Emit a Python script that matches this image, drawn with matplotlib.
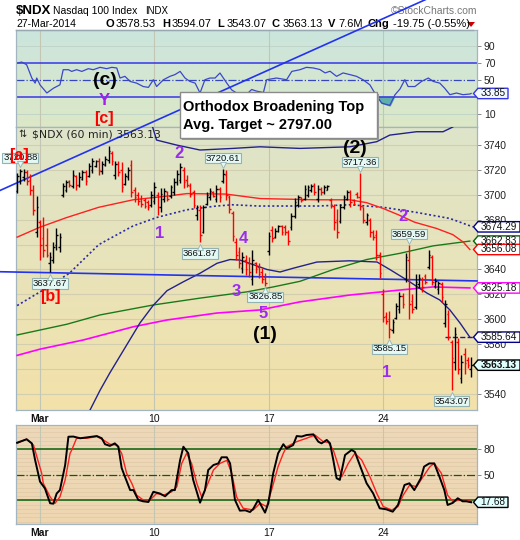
import numpy as np
import matplotlib
matplotlib.use('Agg')
import matplotlib.pyplot as plt
import matplotlib.colors as mcolors
from matplotlib.patches import Polygon, Rectangle
from matplotlib.transforms import IdentityTransform, offset_copy

plt.rcParams['font.family'] = ['Liberation Sans', 'DejaVu Sans']

# ---------------- data ----------------
date_ticks = [7, 42, 77, 112]
date_labels = ['Mar', '10', '17', '24']

opens = [3703, 3711, 3714, 3718, 3712, 3704, 3670, 3678, 3665, 3660, 3645, 3648, 3660, 3658,
         3700, 3704, 3711, 3707, 3715, 3708, 3713, 3718, 3715, 3720, 3723, 3727, 3719, 3724,
         3728, 3734, 3716, 3725, 3720, 3709, 3714, 3724, 3704, 3700, 3697, 3696, 3694, 3692,
         3695, 3700, 3690, 3697, 3702, 3699, 3702, 3710, 3712, 3720, 3712, 3707, 3702, 3684,
         3688, 3670, 3693, 3698, 3702, 3697, 3705, 3711, 3716, 3698, 3685, 3662, 3654, 3641,
         3648, 3645, 3632, 3645, 3642, 3638, 3634, 3655, 3672, 3666, 3671, 3675, 3674, 3670,
         3674, 3683, 3692, 3698, 3697, 3700, 3704, 3708, 3697, 3705, 3702, 3704, 3696, 3691,
         3680, 3679, 3690, 3697, 3702, 3696, 3701, 3698, 3690, 3678, 3680, 3670, 3668, 3652,
         3620, 3603, 3600, 3591, 3601, 3608, 3619, 3632, 3648, 3615, 3610, 3628, 3632, 3635,
         3642, 3650, 3627, 3624, 3628, 3597, 3604, 3582, 3566, 3582, 3553, 3572, 3567, 3560]
highs = [3717.5, 3720.88, 3721, 3720, 3717, 3708, 3699, 3680, 3682, 3673, 3654, 3662, 3673, 3669,
         3709.5, 3712, 3712, 3720, 3716, 3718, 3720, 3720, 3725.5, 3729.5, 3728, 3729.5, 3727, 3731,
         3739.5, 3735, 3727, 3727, 3726.6, 3717.5, 3722.6, 3728, 3706.5, 3702.5, 3700, 3697.5, 3696, 3703,
         3710.5, 3702.5, 3705.5, 3705.5, 3703, 3708, 3713.5, 3720, 3725.5, 3722.6, 3716, 3709.5, 3704, 3692,
         3692, 3692, 3702.5, 3705.5, 3703, 3708, 3706.5, 3720.61, 3720, 3700, 3687, 3665, 3658, 3654,
         3652, 3650, 3655.7, 3646, 3645, 3641, 3637, 3670, 3675, 3673, 3676, 3676, 3676, 3672,
         3685, 3697.5, 3700, 3698.5, 3708, 3708, 3708.7, 3709.5, 3708, 3706.5, 3708, 3708, 3697.5, 3693,
         3689, 3693, 3700, 3704, 3704, 3697, 3702.5, 3717.36, 3690.5, 3685, 3681, 3672, 3672, 3654,
         3624, 3606, 3607, 3600, 3613, 3622, 3621, 3653, 3659.59, 3620, 3636, 3636, 3634, 3636,
         3656, 3652, 3633, 3631, 3630, 3615.5, 3607.5, 3583.4, 3594, 3585, 3571, 3577, 3570, 3570]
lows = [3701.5, 3709, 3711, 3708, 3700, 3684, 3666, 3648, 3650, 3650, 3637.67, 3645, 3656, 3654,
        3698.5, 3702.5, 3706, 3705.5, 3704, 3706, 3712, 3708, 3714, 3717.5, 3722, 3716, 3717, 3723,
        3725.5, 3724, 3713, 3715, 3702.5, 3708, 3712, 3698.5, 3694.5, 3692, 3690.5, 3689.5, 3688, 3690,
        3693, 3684, 3686.5, 3694.5, 3695, 3697.5, 3700, 3708, 3709.5, 3705.5, 3706.5, 3698.5, 3689.5, 3680,
        3661.87, 3669, 3692, 3696, 3698, 3694.5, 3694.5, 3709.5, 3696, 3685.5, 3663, 3648, 3641, 3637,
        3635.6, 3634, 3627.6, 3637, 3633, 3629, 3626.85, 3652, 3662, 3665, 3670, 3668, 3668, 3660,
        3672, 3681, 3690.5, 3694.5, 3696, 3698.5, 3702.5, 3700, 3694.5, 3700, 3701, 3703.5, 3689.5, 3672,
        3665, 3677, 3689, 3696, 3690.5, 3692, 3697.5, 3688, 3677, 3676, 3666, 3664, 3648, 3633,
        3598, 3596, 3585.15, 3589, 3600, 3605, 3609, 3630, 3600, 3605, 3608, 3625, 3622, 3628,
        3640, 3627.5, 3625, 3620, 3614, 3594, 3583.4, 3543.07, 3559, 3556, 3549, 3556, 3561, 3554]
closes = [3715, 3719, 3718, 3711, 3704, 3688, 3690, 3660, 3656, 3652, 3650, 3658, 3668, 3666,
          3707, 3710, 3708, 3716, 3708, 3714, 3718, 3711, 3723, 3727, 3727, 3720, 3725, 3729,
          3735, 3727, 3725, 3718, 3706, 3715, 3720, 3702, 3698, 3695, 3693, 3691, 3690, 3700,
          3706, 3690, 3701, 3703, 3697, 3706, 3710, 3717, 3722, 3710, 3708, 3701, 3692, 3690,
          3668, 3690, 3700, 3703, 3699, 3705, 3698, 3717, 3700, 3689, 3667, 3652, 3645, 3650,
          3640, 3638, 3648, 3640, 3636, 3632, 3629, 3667, 3665, 3671, 3675, 3670, 3670, 3663,
          3683, 3694, 3698, 3696, 3705, 3706, 3707, 3702, 3705, 3702, 3706, 3707, 3691, 3678,
          3670, 3690, 3698, 3702, 3694, 3693, 3698, 3691, 3680, 3684, 3670, 3666, 3652, 3637,
          3602, 3599, 3592, 3598, 3611, 3619, 3612, 3650, 3612, 3608, 3630, 3633, 3626, 3630,
          3652, 3630, 3631, 3629, 3618, 3612, 3586, 3569, 3588, 3560, 3566, 3565, 3563.5, 3563.13]

callout_idx = [1, 10, 63, 56, 76, 105, 120, 114, 133]
callout_txt = ['3720.88', '3637.67', '3720.61', '3661.87', '3626.85', '3717.36', '3659.59', '3585.15', '3543.07']
callout_up = [True, False, True, False, False, True, True, False, False]

red_idx = [0, 7, 15, 25, 35.5, 46, 52, 64, 74.4, 91.6, 101.9, 107, 112.1, 116.7, 121.7, 128.4, 133.4, 136.6, 138.6]
red_val = [3666, 3674, 3681.6, 3690, 3696, 3699, 3701, 3700.6, 3697, 3696, 3696, 3693.7, 3689, 3684, 3678, 3673, 3668, 3662, 3656.08]
dot_idx = [0, 7, 16, 25, 35.5, 43, 52, 61, 66, 74, 92, 102, 112, 122, 132.5, 139.5]
dot_val = [3611, 3622, 3637, 3660, 3675, 3682, 3688, 3691, 3692, 3691, 3691, 3692, 3690, 3686, 3681, 3674.29]
upper_idx = [41.3, 42.7, 48.8, 56, 66.1, 74.3, 86.6, 101.9, 110.1, 114.1, 122.3, 130.4, 133.4, 135.5]
upper_val = [3756, 3744, 3740, 3736, 3737.3, 3738.6, 3737.3, 3738.6, 3742.7, 3748, 3750.7, 3750.7, 3754.5, 3760]
low_idx = [21.5, 22.3, 25.4, 28.4, 33, 37.6, 41.6, 45.9, 50.8, 56, 61.2, 65.2, 68.2, 72.2, 76.5, 80.5,
           84.5, 91.8, 101.9, 110.2, 114.1, 119.3, 125.5, 129.4, 132.5, 135.6, 138.6]
low_val = [3520, 3527, 3543, 3557, 3577, 3597, 3611, 3623, 3630, 3637, 3645, 3648, 3647.6, 3644, 3640, 3638,
           3641, 3646, 3647, 3646, 3640, 3631.6, 3621, 3615.5, 3607.5, 3597, 3585.64]
green_idx = [0, 15.2, 25.4, 41.7, 56, 70.3, 78.4, 86.6, 96.8, 107, 117.2, 127.4, 138.6]
green_val = [3587.4, 3596, 3603.5, 3611.5, 3617, 3622, 3626, 3630.5, 3640, 3648, 3653, 3659, 3662.83]
mag_idx = [0, 7, 20.3, 35.6, 45.8, 61.1, 74.3, 86.6, 101.9, 117.2, 127.4, 138.6]
mag_val = [3571, 3576, 3583.4, 3594, 3599.4, 3605, 3607.5, 3614, 3619.5, 3623.5, 3626, 3625.18]

trend_up_idx = [-5.25, 126]
trend_up_val = [3703.5, 3858]
trend_flat_idx = [-5.25, 140.8]
trend_flat_val = [3638.2, 3630.8]

rsi_idx = [0, 1.4, 2.9, 4.5, 5.5, 6, 7, 9.1, 11.1, 13.1, 14.1, 15.7, 16.7, 18.2, 19.8, 21.8, 23.3, 25.4, 27.4, 29,
           30.5, 31.5, 33, 34.6, 36.6, 38.6, 40.2, 41.7, 42.7, 44.8, 46.8, 48.3, 49.9, 51.4, 52.9, 54.5, 56, 57.5, 59, 60.6,
           62.1, 64.2, 65.7, 67.2, 68.7, 70.3, 71.8, 73.3, 75.4, 76.4, 79.4, 82.5, 84.1, 86.6, 88.6, 90.7, 92.7, 94.3, 95.8, 97.8,
           99.8, 101.9, 103.9, 105.9, 108, 109.5, 111.6, 114.1, 115.7, 117.2, 118.7, 119.7, 121.8, 123.8, 125.9, 127.4, 129.4, 130.9, 132.5, 134.5,
           136.5, 138.6, 139]
rsi_val = [69.6, 70.8, 67.7, 52, 46, 52, 44, 34.4, 40, 44, 61.8, 61.8, 59.8, 61.8, 59.8, 63, 61.8, 64.6, 63, 64.6,
           63.8, 52, 54, 48, 46, 42, 41, 50, 42, 50, 54, 56, 59.8, 52, 48, 46, 34.4, 50, 52, 52,
           57.9, 46, 38, 34.4, 30, 33, 38.5, 36.6, 35, 50, 52, 50, 59.8, 61.8, 64.6, 63.8, 62, 58, 60, 54,
           58, 56, 54, 50, 44, 34.4, 22.6, 19.8, 32.4, 39, 50, 42, 42, 48, 52, 48, 46, 40, 32.4, 34.4,
           32.4, 33.2, 33.85]

k_idx = [0, 2.9, 4.5, 5.5, 7, 8.5, 10.1, 11.1, 12.1, 13.1, 14.7, 15.7, 17.2, 19.3, 21.3, 24.4, 25.9, 26.9, 28.4, 29.9,
         31, 32, 33, 34.6, 35.6, 37.1, 38.6, 40.2, 41.7, 43.7, 45.3, 47.3, 48.3, 49.9, 50.9, 52.4, 53.9, 56, 57.5, 58.5,
         60.1, 61.6, 62.6, 64.2, 65.2, 66.7, 68.2, 69.8, 71.3, 72.3, 73.8, 74.9, 75.9, 76.9, 78.4, 79.9, 81.5, 82.5, 84.5, 85.6,
         87.1, 88.6, 90.7, 92.2, 93.2, 94.8, 95.8, 96.8, 97.8, 98.8, 100.4, 102.4, 103.4, 104.9, 107, 109, 111, 113, 115, 116.6,
         118.6, 120.1, 121.6, 123.6, 124.6, 126.2, 127.7, 129.3, 130.8, 131.8, 133.4, 134.9, 136.4, 137.5, 139]
k_val = [87.8, 91.8, 87, 67.4, 42, 34, 16.5, 16, 28, 32, 61.5, 94.8, 95, 93, 94, 95.6, 93, 86, 84, 87,
         83, 58, 47.8, 32, 32, 20.4, 18.8, 18, 30, 28, 24.7, 32, 32, 67.4, 83, 75.3, 44, 17.2, 32, 55.6,
         61.5, 63.4, 70.6, 70.6, 63.4, 20.4, 7.8, 8.2, 6.2, 10, 20.4, 12.6, 5.5, 16.5, 51.7, 75.3, 86, 81, 85, 95.6,
         95, 96.8, 97.6, 89, 87, 91, 87, 67.4, 46, 44, 73.3, 79.2, 77, 61.5, 40, 28.2, 10.6, 9.4, 6.6, 14.5,
         38, 40, 32, 45.9, 59.6, 63.4, 63.4, 47.8, 32, 14.5, 17, 22.4, 18.8, 18.8, 17.68]
d_idx = [0, 2.9, 5, 7.5, 8, 10.1, 11.6, 13.1, 14.7, 16.2, 16.7, 18.2, 21.3, 24.4, 26.4, 28.4, 30.5, 32, 33.5, 35.1,
         36.6, 38.6, 40.7, 42.7, 44.8, 47.3, 48.9, 50.4, 51.9, 53.4, 55, 56.5, 58, 60.1, 62.1, 64.2, 65.7, 67.2, 69.2, 72.3,
         74.4, 76.4, 77.9, 79.9, 81.5, 82.5, 85.6, 88.6, 91.2, 93.7, 95.3, 96.8, 97.8, 99.4, 101.4, 103.4, 105.5, 108, 110.1, 112.1,
         114.7, 116.6, 118.2, 120.2, 122.3, 124.3, 126.4, 127.7, 129.9, 131.8, 133.4, 135.5, 137.5, 139]
d_val = [87, 92, 85, 52, 40, 24, 16.5, 24, 44, 75.3, 79, 93, 93, 95, 91, 86, 85, 75.3, 52, 40,
         26, 20.4, 20.4, 28, 26, 30, 36, 63.5, 75.3, 63.5, 40, 24, 36, 55.6, 63.4, 67, 51.7, 24, 10.6, 8.6,
         16.5, 12.6, 32, 59.6, 75.3, 83, 89, 93, 96.8, 89, 88, 79, 67.4, 47.8, 63.5, 75.3, 67.4, 47.8, 28.2, 12.6,
         8.6, 12.6, 26, 38, 36, 47.8, 59.6, 63.5, 51.7, 26, 18.4, 20.4, 20.4, 18.4]

main_tag_vals = [3674.29, 3662.83, 3656.08, 3625.18, 3585.64, 3563.13]
main_tag_cols = ['#00008b', '#006400', '#ff0000', '#ff00ff', '#00008b', '#000000']
rsi_last = 33.85
stoch_last = 17.68

main_ticks = [3540, 3580, 3600, 3620, 3640, 3680, 3700, 3720, 3740]
rsi_ticks = [10, 50, 70, 90]
stoch_ticks = [50, 80]

# ---------------- figure ----------------
W, H = 520, 540
fig = plt.figure(figsize=(W / 100, H / 100), dpi=100)
fig.patch.set_facecolor('white')


def rect(x0, y0, x1, y1):
    return [x0 / W, 1 - y1 / H, (x1 - x0) / W, (y1 - y0) / H]


XL = (-0.35, 140.8)
YL_R = (-5.6, 108.5)
YL_M = (3527.1, 3754.5)
YL_S = (-7.9, 108.6)

ax_r = fig.add_axes(rect(16, 30, 477, 127), zorder=1)
ax = fig.add_axes(rect(16, 127, 477, 410), zorder=5)
ax_s = fig.add_axes(rect(16, 425, 477, 524), zorder=1)


def grad(a, top, bottom, yl):
    c1 = np.array(mcolors.to_rgb(top))
    c2 = np.array(mcolors.to_rgb(bottom))
    t = np.linspace(0, 1, 200)[:, None, None]
    img = c1 * (1 - t) + c2 * t
    a.imshow(img, extent=[XL[0], XL[1], yl[0], yl[1]], aspect='auto', origin='upper',
             zorder=-5, interpolation='bilinear')


def style(a, yl, yticks):
    a.set_xlim(XL)
    a.set_ylim(yl)
    for s in a.spines.values():
        s.set_color('#a3b5c0')
        s.set_linewidth(0.9)
    a.yaxis.tick_right()
    a.set_yticks(yticks)
    a.tick_params(axis='y', length=3, width=0.7, color='#888888', labelsize=7.5, pad=2,
                  labelcolor='#222222')
    for d in date_ticks:
        a.axvline(d, color='#c3c6b2', lw=0.8, zorder=-1)


# ---- RSI panel ----
grad(ax_r, '#cbe5de', '#dce8c6', YL_R)
for v in (10, 90):
    ax_r.axhline(v, color='#c0d4c8', lw=0.7, zorder=-1)
ax_r.axhline(70, color='#3636e6', lw=1.1)
ax_r.axhline(30, color='#3636e6', lw=1.1)
ax_r.axhline(50, color='#3646c0', lw=0.9, ls='-.')
rv = np.array(rsi_val)
ax_r.fill_between(rsi_idx, rv, 30, where=rv < 30, interpolate=True, color='#5fb0a8', zorder=1)
ax_r.plot(rsi_idx, rsi_val, color='#3a48c8', lw=0.9, zorder=2)
style(ax_r, YL_R, rsi_ticks)
ax_r.set_xticks([])
ax_r.text(26.9, 49.6, '(c)', fontsize=14, fontweight='bold', color='black', ha='center', va='center')
ax_r.text(26.6, 25.5, 'Y', fontsize=12, fontweight='bold', color='#a020e8', ha='center', va='center')
ax_r.text(26.6, 4.4, '[c]', fontsize=11.5, fontweight='bold', color='#ff0000', ha='center', va='center')

# ---- Main price panel ----
grad(ax, '#dee5ca', '#f3e1a9', YL_M)
for v in range(3540, 3741, 20):
    ax.axhline(v, color='#d2cfb0', lw=0.8, zorder=-1)

idx = np.arange(len(closes))
cols = ['#ff0000' if c < o else '#000000' for o, c in zip(opens, closes)]
ax.vlines(idx, lows, highs, colors=cols, lw=1.0, zorder=4)
ax.hlines(opens, idx - 0.5, idx, colors=cols, lw=1.0, zorder=4)
ax.hlines(closes, idx, idx + 0.5, colors=cols, lw=1.0, zorder=4)

ax.plot(mag_idx, mag_val, color='#ff00ff', lw=1.2, zorder=3)
ax.plot(green_idx, green_val, color='#1a7a1a', lw=1.0, zorder=3)
ax.plot(low_idx, low_val, color='#22228a', lw=1.0, zorder=3)
ax.plot(upper_idx, upper_val, color='#22228a', lw=1.0, zorder=3)
ax.plot(dot_idx, dot_val, color='#2a2aa0', lw=1.2, ls=(0, (1.2, 1.5)), zorder=3)
ax.plot(red_idx, red_val, color='#ff2020', lw=1.0, zorder=3)
ax.plot([131, XL[1]], [main_tag_vals[4], main_tag_vals[4]], color='#1a1aa0', lw=1.0, ls='--', zorder=3)
ax.plot(trend_flat_idx, trend_flat_val, color='#2233ee', lw=1.2, zorder=3.5, clip_on=False)
ax.plot(trend_up_idx, trend_up_val, color='#2233ee', lw=1.2, zorder=3.5, clip_on=False)

style(ax, YL_M, main_ticks)
ax.set_xticks(date_ticks, date_labels)
ax.tick_params(axis='x', length=0, pad=3, labelsize=7.5, labelcolor='#111111')
ax.get_xticklabels()[0].set_fontweight('bold')

# callouts
box_fc = '#e4f8f4'
box_ec = '#93b3b3'
for i, t, up in zip(callout_idx, callout_txt, callout_up):
    p = highs[i] if up else lows[i]
    dy = 11 if up else -11
    ax.annotate(t, xy=(i, p), xytext=(0, dy), textcoords='offset pixels', ha='center', va='center',
                fontsize=6.8, color='#111111', zorder=7, annotation_clip=False,
                bbox=dict(boxstyle='square,pad=0.08', fc=box_fc, ec=box_ec, lw=0.8))
    tr = offset_copy(ax.transData, fig=fig, x=0, y=(4.5 if up else -4.5), units='dots')
    ax.plot([i], [p], marker='v' if up else '^', ms=5, mfc=box_fc, mec=box_ec, mew=0.6,
            transform=tr, clip_on=False, zorder=7.5)

purple = '#9a2cf0'
wave = [(43.5, 3669.3, '1', purple, 12), (49.6, 3733.6, '2', purple, 12),
        (69.2, 3665.3, '4', purple, 12), (67.2, 3622.2, '3', purple, 12),
        (75.2, 3604.8, '5', purple, 12), (118.0, 3682.4, '2', purple, 12),
        (113.1, 3556.9, '1', purple, 12), (75.9, 3587.4, '(1)', 'black', 14),
        (103.4, 3737.6, '(2)', 'black', 14), (0.6, 3732.0, '[a]', '#ff0000', 11.5),
        (10.1, 3617.9, '[b]', '#ff0000', 11.5)]
for x, y, t, c, fs in wave:
    ax.text(x, y, t, color=c, fontsize=fs, fontweight='bold', ha='center', va='center',
            zorder=8, clip_on=False)

ax.text(0.006, 0.975, '\u21c5', transform=ax.transAxes, fontsize=7, va='center', ha='left',
        color='#222222', family='DejaVu Sans', zorder=8)
ax.text(0.035, 0.975, '$NDX (60 min) 3563.13', transform=ax.transAxes, fontsize=7.8, va='center',
        ha='left', color='#222222', family='DejaVu Sans', zorder=8)

# ---- Stochastic panel ----
grad(ax_s, '#ecd9ba', '#eed6b0', YL_S)
for v in range(-5, 106, 5):
    ax_s.axhline(v, color='#e2cba8', lw=0.6, zorder=-1)
ax_s.axhline(80, color='#0b5e0b', lw=1.1)
ax_s.axhline(20, color='#0b5e0b', lw=1.1)
ax_s.axhline(50, color='#0b5e0b', lw=0.9, ls='-.')
ax_s.plot(d_idx, d_val, color='#ff2020', lw=1.0, zorder=3)
ax_s.plot(k_idx, k_val, color='#000000', lw=1.4, zorder=4)
style(ax_s, YL_S, stoch_ticks)
ax_s.set_xticks(date_ticks, date_labels)
ax_s.tick_params(axis='x', length=0, pad=3, labelsize=7.5, labelcolor='#111111')
ax_s.get_xticklabels()[0].set_fontweight('bold')


# ---- right-side value tags ----
def tag(a, value, text, ec, fc='#ffffff', bold=False):
    y = a.transData.transform((0, value))[1]
    x0 = a.transAxes.transform((1, 0))[0]
    hh = 5.2
    w = 6.0 * len(text)
    pts = [(x0 - 3.5, y), (x0 + 1, y + hh), (x0 + 1 + w, y + hh), (x0 + 1 + w, y - hh), (x0 + 1, y - hh)]
    poly = Polygon(pts, closed=True, transform=IdentityTransform(), fc=fc, ec=ec, lw=1.0, zorder=8)
    fig.add_artist(poly)
    fig.text(x0 + 1 + w / 2, y, text, transform=IdentityTransform(), ha='center', va='center',
             fontsize=7.2, fontweight='bold' if bold else 'normal', color='#111111', zorder=9)


for v, c in zip(main_tag_vals, main_tag_cols):
    if c == '#000000':
        tag(ax, v, f'{v:.2f}', c, fc='#e0ffff', bold=True)
    else:
        tag(ax, v, f'{v:.2f}', c)
tag(ax_r, rsi_last, f'{rsi_last:.2f}', '#3636e6', fc='#f2f8ff')
tag(ax_s, stoch_last, f'{stoch_last:.2f}', '#000000', fc='#e0ffff')


# ---- header ----
def ft(x, y, s, **kw):
    kw.setdefault('va', 'center')
    kw.setdefault('zorder', 4)
    fig.text(x / W, 1 - y / H, s, **kw)


ft(16, 10.5, '$NDX', fontsize=9.5, fontweight='bold')
ft(53, 11, 'Nasdaq 100 Index', fontsize=7.5)
ft(145, 11, 'INDX', fontsize=7)
ft(477, 11, '\u00a9StockCharts.com', fontsize=7.5, color='#777777', ha='right')
ft(16, 24, '27-Mar-2014', fontsize=7.5)
parts = [(106, 'O', True), (116, '3578.53', False), (162, 'H', True), (172, '3594.07', False),
         (217, 'L', True), (227, '3543.07', False), (272, 'C', True), (283, '3563.13', False),
         (328, 'V', True), (338, '7.6M', False), (368, 'Chg', True), (393, '-19.75 (-0.55%)', False)]
for x, s, b in parts:
    ft(x, 24, s, fontsize=8, fontweight='bold' if b else 'normal')
fig.add_artist(Polygon([(467, 540 - 22), (475, 540 - 22), (471, 540 - 27)], closed=True,
                       transform=IdentityTransform(), fc='#cc0000', ec='none', zorder=4))
fig.add_artist(plt.Line2D([16, 473], [540 - 29.5, 540 - 29.5], transform=IdentityTransform(),
                          color='#9aa8b0', lw=1.0, zorder=4))

# ---- pattern box ----
fig.add_artist(Rectangle((182, 540 - 140.3), 197, 46.6, transform=IdentityTransform(),
                         fc='#9a9a9a', ec='none', zorder=9))
fig.add_artist(Rectangle((180, 540 - 138.3), 197, 46.6, transform=IdentityTransform(),
                         fc='white', ec='#8a8a8a', lw=1.0, zorder=10))
ft(183, 106.5, 'Orthodox Broadening Top', fontsize=10.5, fontweight='bold', zorder=11)
ft(183, 125.5, 'Avg. Target ~ 2797.00', fontsize=10.5, fontweight='bold', zorder=11)

fig.savefig('out.png', dpi=100)
